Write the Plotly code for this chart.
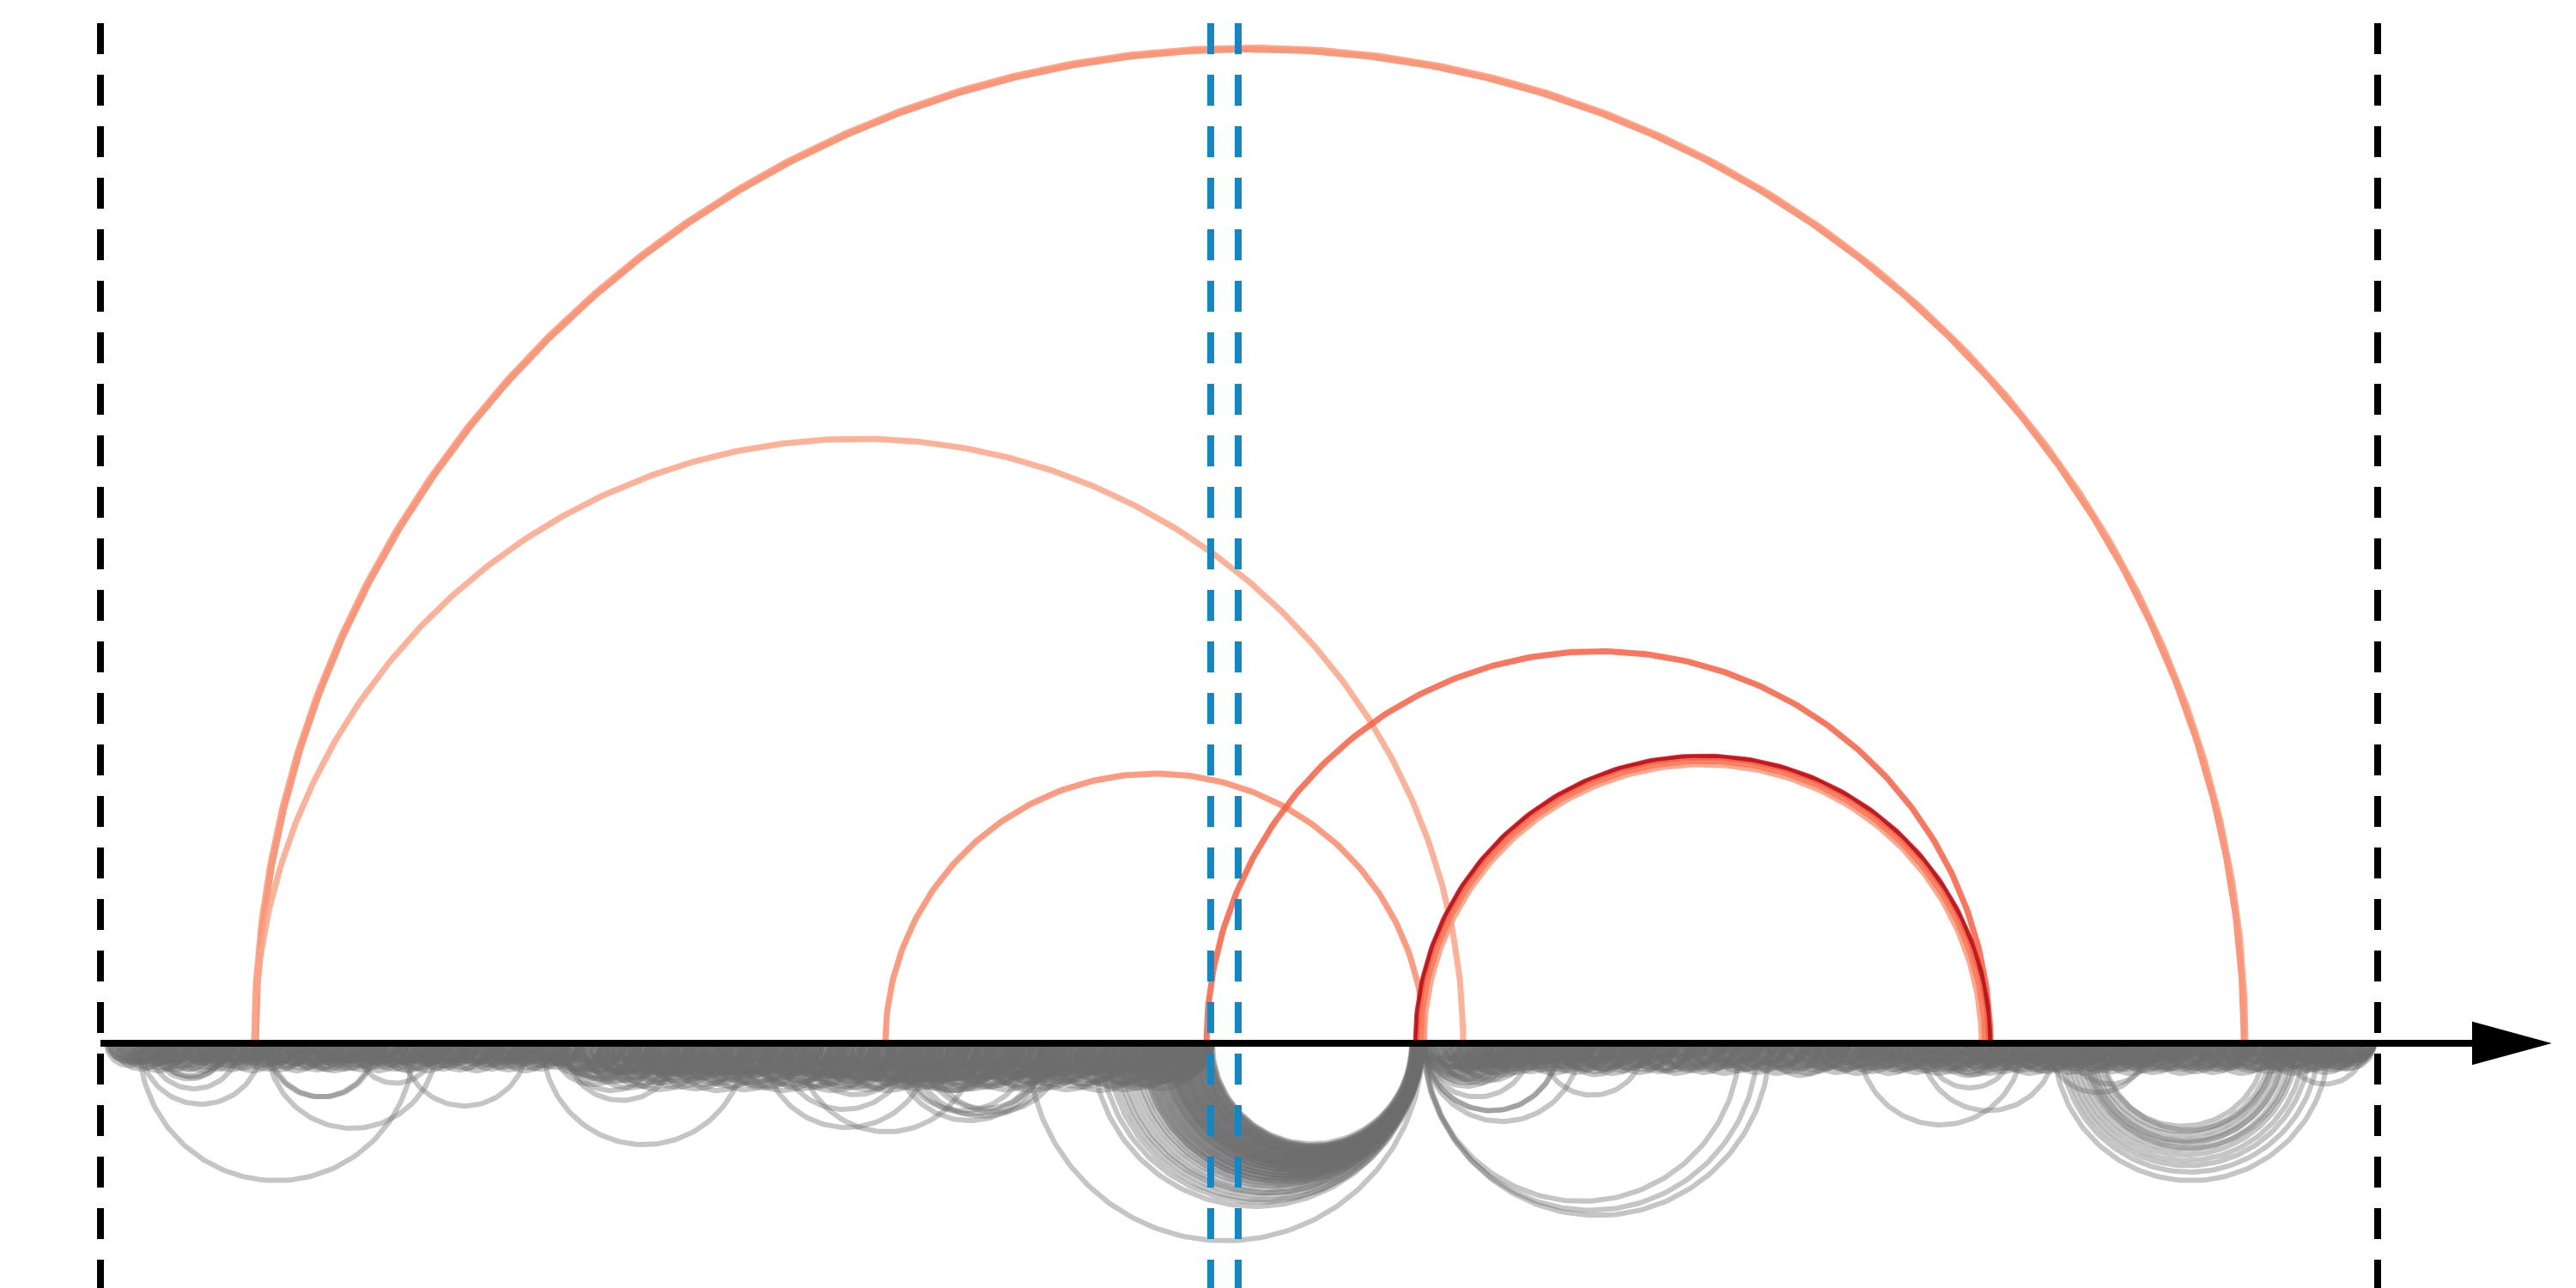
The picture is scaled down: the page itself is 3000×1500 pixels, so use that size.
import numpy as np
import plotly.graph_objects as go
from plotly.colors import sample_colorscale

# genomic window (kb) and viewpoint
window_start, window_end = 117, 2769
viewpoint = [1410, 1442]

# significant interactions drawn above the axis: start, end, score
red_start = [298, 296, 296, 1031, 1405, 1658, 1649, 1650, 1654]
red_end = [2613, 2615, 1704, 1659, 2318, 2308, 2317, 2316, 2312]
red_score = [0.42, 0.36, 0.32, 0.40, 0.53, 0.35, 0.75, 0.80, 0.46]

# background contacts drawn below the axis (start, end)
long_arcs = [(162, 482), (311, 509), (311, 436), (313, 438), (468, 614), (163, 305), (173, 279),
             (179, 262), (182, 258), (185, 264), (188, 250), (350, 411), (414, 507), (443, 507),
             (632, 868), (657, 790), (655, 735), (742, 812), (780, 861), (840, 940),
             (888, 1084), (930, 1136), (906, 1060), (937, 1057), (1043, 1200), (1050, 1215),
             (1060, 1230), (1070, 1222), (1080, 1240), (1039, 1219), (1050, 1160), (1060, 1170),
             (1197, 1657), (1262, 1357), (1268, 1365), (1275, 1340),
             (1658, 2026), (1658, 2047), (1660, 2061), (1658, 1815), (1659, 1816), (1658, 1840),
             (1658, 1783), (1658, 1758), (1658, 1736), (1794, 1915), (1822, 1895), (1910, 1975),
             (2060, 2135), (1840, 1900), (2165, 2355), (2237, 2394), (2242, 2346), (2255, 2330),
             (2262, 2335), (2385, 2500), (2345, 2410), (2470, 2515), (2410, 2505),
             (2445, 2638), (2440, 2645), (2436, 2650), (2430, 2655), (2425, 2660), (2420, 2668),
             (2433, 2662), (2415, 2675), (2410, 2683), (2405, 2690), (2400, 2700), (2392, 2712),
             (2448, 2650), (2428, 2672), (2660, 2755)]

# contacts of the viewpoint region (start, end)
viewpoint_arcs = [(1412, 1650), (1410, 1651), (1408, 1652), (1405, 1650), (1403, 1653), (1400, 1651),
                  (1398, 1654), (1395, 1652), (1392, 1655), (1390, 1650), (1387, 1653), (1384, 1656),
                  (1381, 1651), (1378, 1654), (1375, 1657), (1372, 1652), (1369, 1655), (1366, 1650),
                  (1363, 1653), (1360, 1656), (1356, 1651), (1352, 1654), (1348, 1657), (1344, 1652),
                  (1340, 1655), (1336, 1650), (1332, 1653), (1322, 1652), (1312, 1652), (1296, 1652),
                  (1290, 1655), (1282, 1652), (1272, 1652), (1409, 1647), (1401, 1648), (1393, 1649),
                  (1385, 1647), (1377, 1648), (1370, 1649), (1362, 1647),
                  (1411, 1645), (1407, 1649), (1404, 1656), (1402, 1644), (1399, 1657), (1397, 1646),
                  (1394, 1650), (1391, 1644), (1389, 1657), (1386, 1648), (1383, 1652), (1380, 1656),
                  (1379, 1645), (1376, 1650), (1374, 1655), (1371, 1646), (1368, 1651), (1365, 1656),
                  (1364, 1645), (1361, 1650), (1358, 1654), (1355, 1657), (1353, 1647), (1350, 1651),
                  (1346, 1655), (1342, 1649), (1338, 1653), (1334, 1657), (1330, 1650), (1327, 1654),
                  (1318, 1652), (1306, 1654), (1301, 1650)]

# short-range contacts (start, end)
short_arcs = [
    (125, 160), (128, 172), (133, 150), (137, 182), (141, 168), (147, 190), (151, 176), (156, 198),
    (161, 187), (165, 209), (170, 194), (176, 218), (181, 203), (186, 226), (190, 212), (196, 236),
    (201, 224), (206, 244), (212, 232), (217, 256), (222, 246), (228, 266), (233, 255), (238, 276),
    (244, 264), (249, 288), (254, 278), (259, 296), (265, 286), (270, 306), (276, 298), (281, 318),
    (286, 310), (292, 328), (297, 320),
    (302, 345), (306, 330), (311, 352), (316, 338), (320, 366), (326, 350), (331, 372), (336, 360),
    (340, 384), (346, 368), (351, 394), (356, 378), (361, 402), (366, 390), (371, 412), (376, 398),
    (381, 420), (386, 410), (391, 432), (396, 420), (402, 444), (407, 430), (412, 452), (417, 440),
    (422, 466), (428, 450), (433, 474), (438, 462), (443, 486), (448, 470), (454, 496), (459, 482),
    (464, 504), (469, 492), (474, 516), (480, 504), (485, 526), (490, 512), (495, 538), (500, 522),
    (506, 548), (511, 534), (516, 556), (521, 546), (526, 568), (532, 556), (537, 578), (542, 566),
    (547, 590), (552, 574), (558, 600), (563, 586), (568, 610), (573, 598), (578, 620), (584, 606),
    (589, 632), (594, 616), (599, 640), (604, 628), (610, 652), (615, 638), (620, 660), (625, 650),
    (630, 672), (636, 660),
    (641, 700), (645, 675), (649, 712), (653, 690), (657, 722), (662, 700), (666, 715), (670, 735),
    (675, 710), (679, 745), (683, 720), (688, 756), (692, 730), (696, 764), (701, 740), (705, 772),
    (709, 748), (714, 782), (718, 760), (722, 790), (727, 770), (731, 800), (735, 778), (740, 808),
    (744, 786), (748, 818), (753, 796), (757, 826), (761, 804), (766, 834), (770, 812), (774, 842),
    (779, 822), (783, 852), (787, 830), (792, 860), (796, 838), (800, 870), (805, 848), (809, 878),
    (813, 856), (818, 886), (822, 864), (826, 896), (831, 874), (835, 904), (839, 882), (844, 912),
    (848, 890), (852, 920), (857, 898), (861, 930), (865, 906), (870, 938),
    (874, 920), (878, 948), (883, 930), (887, 958), (891, 940), (896, 966), (900, 950), (904, 976),
    (909, 958), (913, 986), (917, 968), (922, 996), (926, 976), (930, 1006), (935, 986), (939, 1016),
    (943, 996), (948, 1026), (952, 1004), (956, 1036), (961, 1014), (965, 1046), (969, 1024),
    (974, 1056), (978, 1034), (982, 1066), (987, 1042), (991, 1076), (995, 1052), (1000, 1086),
    (1004, 1062), (1008, 1096), (1013, 1070), (1017, 1104), (1021, 1080), (1026, 1112), (1030, 1090),
    (1034, 1120), (1039, 1098), (1043, 1128), (1047, 1108), (1052, 1136), (1056, 1116), (1060, 1144),
    (1065, 1124), (1069, 1152), (1073, 1132), (1078, 1160), (1082, 1140), (1086, 1168), (1091, 1148),
    (1095, 1176), (1099, 1156), (1104, 1184), (1108, 1164), (1112, 1192), (1117, 1172), (1121, 1200),
    (1125, 1180), (1130, 1208), (1134, 1188), (1138, 1216), (1143, 1196), (1147, 1224), (1151, 1204),
    (1156, 1232), (1160, 1212), (1164, 1240), (1169, 1220), (1173, 1248), (1177, 1228), (1182, 1256),
    (1186, 1236), (1190, 1262), (1195, 1244), (1199, 1270),
    (1203, 1252), (1207, 1276), (1212, 1260), (1216, 1284), (1220, 1268), (1225, 1292), (1229, 1276),
    (1233, 1300), (1238, 1284), (1242, 1308), (1246, 1292), (1251, 1316), (1255, 1300), (1259, 1324),
    (1264, 1308), (1268, 1332), (1272, 1316), (1277, 1340), (1281, 1324), (1285, 1348), (1290, 1332),
    (1294, 1356), (1298, 1340), (1303, 1364), (1307, 1348), (1311, 1372), (1316, 1356), (1320, 1380),
    (1324, 1364), (1329, 1388), (1333, 1372), (1337, 1396), (1342, 1380), (1346, 1404), (1350, 1388),
    (1355, 1410), (1359, 1396), (1363, 1412), (1368, 1404), (1372, 1410), (1378, 1408), (1384, 1411),
    (1390, 1412),
    (1655, 1690), (1656, 1700), (1657, 1712), (1658, 1722), (1658, 1730), (1659, 1745), (1660, 1752),
    (1662, 1700), (1666, 1720), (1670, 1705), (1674, 1732), (1679, 1716), (1683, 1740), (1688, 1724),
    (1692, 1748), (1697, 1732), (1701, 1756), (1706, 1740), (1710, 1762), (1715, 1748), (1719, 1770),
    (1724, 1756), (1728, 1778), (1733, 1764), (1737, 1786), (1742, 1772),
    (1746, 1794), (1751, 1780), (1755, 1802), (1760, 1788), (1764, 1810), (1769, 1796), (1773, 1818),
    (1778, 1804), (1782, 1826), (1787, 1812), (1791, 1834), (1796, 1820), (1800, 1842), (1805, 1828),
    (1809, 1850), (1814, 1836), (1818, 1858), (1823, 1844), (1827, 1866), (1832, 1852), (1836, 1874),
    (1841, 1860), (1845, 1882), (1850, 1868), (1854, 1890), (1859, 1876), (1863, 1898), (1868, 1884),
    (1872, 1906), (1877, 1892), (1881, 1914), (1886, 1902), (1890, 1922), (1895, 1910), (1899, 1930),
    (1904, 1918), (1908, 1940), (1913, 1928), (1917, 1948), (1922, 1936), (1926, 1956), (1931, 1944),
    (1935, 1964), (1940, 1954), (1944, 1972), (1949, 1962), (1953, 1980), (1958, 1970), (1962, 1988),
    (1967, 1980), (1971, 1996), (1976, 1990), (1980, 2004), (1985, 2000), (1989, 2012), (1994, 2008),
    (1998, 2020), (2003, 2018), (2007, 2028), (2012, 2026), (2016, 2036), (2021, 2034), (2025, 2046),
    (2030, 2044), (2034, 2054), (2039, 2052), (2043, 2064), (2048, 2062), (2052, 2074), (2057, 2072),
    (2061, 2084), (2066, 2080), (2070, 2094), (2075, 2090), (2079, 2104), (2084, 2100), (2088, 2114),
    (2093, 2108), (2097, 2124), (2102, 2118), (2106, 2134), (2111, 2126), (2115, 2144), (2120, 2136),
    (2124, 2154), (2129, 2146), (2133, 2164), (2138, 2156), (2142, 2174), (2147, 2166), (2151, 2184),
    (2156, 2176), (2160, 2194), (2165, 2186), (2169, 2204), (2174, 2196), (2178, 2214), (2183, 2206),
    (2187, 2224), (2192, 2216), (2196, 2232),
    (2201, 2240), (2205, 2226), (2210, 2252), (2214, 2236), (2219, 2262), (2223, 2246), (2228, 2272),
    (2232, 2256), (2237, 2280), (2241, 2264), (2246, 2290), (2250, 2274), (2255, 2298), (2259, 2284),
    (2264, 2308), (2268, 2292), (2273, 2316), (2277, 2302), (2282, 2326), (2286, 2310), (2291, 2334),
    (2295, 2320), (2300, 2344), (2304, 2328), (2309, 2352), (2313, 2338), (2318, 2362), (2322, 2346),
    (2327, 2370), (2331, 2356), (2336, 2380), (2340, 2364), (2345, 2388), (2349, 2374), (2354, 2398),
    (2358, 2382), (2363, 2406), (2367, 2392), (2372, 2416), (2376, 2400), (2381, 2424), (2385, 2410),
    (2390, 2434), (2394, 2418), (2399, 2442), (2403, 2428), (2408, 2452), (2412, 2436), (2417, 2460),
    (2421, 2446), (2426, 2470), (2430, 2454), (2435, 2478), (2439, 2464), (2444, 2488), (2448, 2472),
    (2453, 2496), (2457, 2482), (2462, 2506), (2466, 2490), (2471, 2514), (2475, 2500), (2480, 2524),
    (2484, 2508), (2489, 2530), (2493, 2516), (2498, 2536), (2502, 2524), (2507, 2542), (2511, 2532),
    (2516, 2550), (2520, 2540), (2525, 2558), (2529, 2548), (2534, 2566), (2538, 2556), (2543, 2574),
    (2547, 2564), (2552, 2582), (2556, 2572), (2561, 2590), (2565, 2580), (2570, 2598), (2574, 2590),
    (2579, 2606), (2583, 2600), (2588, 2616), (2592, 2610), (2597, 2626), (2601, 2620), (2606, 2636),
    (2610, 2630), (2615, 2646), (2619, 2640), (2624, 2656), (2628, 2650), (2633, 2666), (2637, 2660),
    (2642, 2676), (2646, 2670), (2651, 2686), (2655, 2680), (2660, 2696), (2664, 2690), (2669, 2706),
    (2673, 2700), (2678, 2716), (2682, 2710), (2687, 2726), (2691, 2720), (2696, 2736), (2700, 2730),
    (2705, 2746), (2709, 2740), (2714, 2756), (2718, 2750), (2723, 2762), (2727, 2758), (2732, 2764),
    (2737, 2762), (2742, 2765), (2748, 2764)]

# more short-range contacts, given as (start, distance)
near_contacts = [
    (127, 41), (131, 27), (136, 48), (140, 33), (145, 45), (149, 24), (154, 50), (158, 30), (163, 38),
    (167, 44), (172, 26), (176, 47), (181, 35), (185, 42), (190, 29), (194, 51), (199, 32), (203, 40),
    (208, 23), (212, 46), (217, 36), (221, 49), (226, 28), (230, 43), (235, 31), (239, 52), (244, 25),
    (248, 39), (253, 45), (257, 30), (262, 48), (266, 34), (271, 41), (275, 27), (280, 50), (284, 33),
    (289, 44), (293, 26), (298, 47), (302, 37), (307, 52), (311, 29), (316, 42), (320, 35), (325, 49),
    (329, 24), (334, 45), (338, 31), (343, 51), (347, 38), (352, 27), (356, 46), (361, 33), (365, 50),
    (370, 40), (374, 25), (379, 48), (383, 36), (388, 43), (392, 30), (397, 52), (401, 28), (406, 44),
    (410, 37), (415, 49), (419, 26), (424, 41), (428, 34), (433, 51), (437, 29), (442, 46), (446, 39),
    (451, 24), (455, 48), (460, 35), (464, 42), (469, 31), (473, 50), (478, 27), (482, 45), (487, 38),
    (491, 52), (496, 30), (500, 43), (505, 36), (509, 47), (514, 25), (518, 41), (523, 33), (527, 49),
    (532, 28), (536, 44), (541, 37), (545, 51), (550, 31), (554, 46), (559, 26), (563, 40), (568, 48),
    (572, 34), (577, 43), (581, 29), (586, 50), (590, 36), (595, 45), (599, 27), (604, 52), (608, 39),
    (613, 32), (617, 47), (622, 41), (626, 30), (631, 49), (635, 36),
    (640, 62), (644, 38), (649, 75), (653, 47), (658, 84), (662, 55), (667, 40), (671, 70), (676, 52),
    (680, 88), (685, 44), (689, 66), (694, 35), (698, 79), (703, 58), (707, 92), (712, 42), (716, 68),
    (721, 50), (725, 85), (730, 37), (734, 72), (739, 60), (743, 46), (748, 90), (752, 54), (757, 76),
    (761, 41), (766, 64), (770, 83), (775, 48), (779, 70), (784, 36), (788, 94), (793, 57), (797, 74),
    (802, 45), (806, 87), (811, 62), (815, 39), (820, 78), (824, 52), (829, 68), (833, 92), (838, 43),
    (842, 73), (847, 56), (851, 86), (856, 40), (860, 66), (865, 80), (869, 48), (874, 95), (878, 58),
    (883, 71), (887, 44), (892, 88), (896, 62), (901, 50), (905, 98), (910, 67), (914, 42), (919, 84),
    (923, 55), (928, 76), (932, 100), (937, 46), (941, 72), (946, 60), (950, 90), (955, 48), (959, 80),
    (964, 57), (968, 102), (973, 66), (977, 44), (982, 86), (986, 70), (991, 52), (995, 96), (1000, 62),
    (1004, 78), (1009, 46), (1013, 92), (1018, 58), (1022, 74), (1027, 100), (1031, 50), (1036, 84),
    (1040, 66), (1045, 44), (1049, 90), (1054, 72), (1058, 56), (1063, 98), (1067, 62), (1072, 80),
    (1076, 48), (1081, 94), (1085, 68), (1090, 54), (1094, 86), (1099, 60), (1103, 100), (1108, 46),
    (1112, 76), (1117, 64), (1121, 92), (1126, 52), (1130, 82), (1135, 58), (1139, 96), (1144, 70),
    (1148, 48), (1153, 88), (1157, 62), (1162, 78), (1166, 54), (1171, 94), (1175, 66), (1180, 84),
    (1184, 50), (1189, 72), (1193, 90), (1198, 60),
    (1202, 48), (1206, 80), (1211, 62), (1215, 94), (1220, 54), (1224, 76), (1229, 88), (1233, 58),
    (1238, 70), (1242, 96), (1247, 50), (1251, 82), (1256, 64), (1260, 92), (1265, 56), (1269, 78),
    (1274, 86), (1278, 60), (1283, 74), (1287, 98), (1292, 52), (1296, 84), (1301, 66), (1305, 90),
    (1310, 58), (1314, 80), (1319, 70), (1323, 88), (1328, 62), (1332, 78), (1337, 54), (1341, 70),
    (1346, 60), (1350, 62), (1355, 50), (1359, 52), (1364, 44), (1368, 42), (1373, 36), (1377, 34),
    (1382, 28), (1386, 24), (1391, 20), (1395, 16),
    (1661, 46), (1664, 72), (1668, 58), (1672, 84), (1677, 40), (1681, 66), (1686, 52), (1690, 78),
    (1695, 44), (1699, 60), (1704, 36), (1708, 70), (1713, 48), (1717, 56), (1722, 32), (1726, 62),
    (1731, 44), (1735, 54), (1740, 28), (1744, 50), (1749, 38), (1753, 58), (1758, 30), (1762, 46),
    (1767, 54), (1771, 34), (1776, 60), (1780, 42), (1785, 26), (1789, 52), (1794, 40), (1798, 56),
    (1803, 32), (1807, 48), (1812, 58), (1816, 36), (1821, 50), (1825, 28), (1830, 54), (1834, 42),
    (1839, 60), (1843, 34), (1848, 46), (1852, 56), (1857, 30), (1861, 50), (1866, 40), (1870, 58),
    (1875, 26), (1879, 48), (1884, 36), (1888, 54), (1893, 44), (1897, 30), (1902, 52), (1906, 40),
    (1911, 58), (1915, 34), (1920, 46), (1924, 28), (1929, 54), (1933, 42), (1938, 60), (1942, 32),
    (1947, 50), (1951, 38), (1956, 56), (1960, 26), (1965, 46), (1969, 52), (1974, 34), (1978, 58),
    (1983, 40), (1987, 48), (1992, 30), (1996, 54), (2001, 44), (2005, 60), (2010, 36), (2014, 50),
    (2019, 28), (2023, 56), (2028, 42), (2032, 48), (2037, 34), (2041, 58), (2046, 40), (2050, 52),
    (2055, 30), (2059, 46), (2064, 56), (2068, 36), (2073, 60), (2077, 44), (2082, 28), (2086, 52),
    (2091, 40), (2095, 58), (2100, 32), (2104, 48), (2109, 54), (2113, 38), (2118, 60), (2122, 30),
    (2127, 46), (2131, 56), (2136, 42), (2140, 34), (2145, 52), (2149, 58), (2154, 38), (2158, 48),
    (2163, 28), (2167, 56), (2172, 44), (2176, 60), (2181, 36), (2185, 50), (2190, 42), (2194, 58),
    (2199, 32),
    (2203, 48), (2207, 30), (2212, 56), (2216, 40), (2221, 60), (2225, 34), (2230, 50), (2234, 44),
    (2239, 28), (2243, 58), (2248, 38), (2252, 52), (2257, 32), (2261, 60), (2266, 42), (2270, 48),
    (2275, 26), (2279, 56), (2284, 36), (2288, 54), (2293, 44), (2297, 30), (2302, 58), (2306, 40),
    (2311, 50), (2315, 34), (2320, 60), (2324, 46), (2329, 28), (2333, 54), (2338, 38), (2342, 58),
    (2347, 42), (2351, 32), (2356, 52), (2360, 60), (2365, 36), (2369, 48), (2374, 56), (2378, 30),
    (2383, 44), (2387, 58), (2392, 40), (2396, 52), (2401, 34), (2405, 60), (2410, 46), (2414, 28),
    (2419, 54), (2423, 40), (2428, 58), (2432, 34), (2437, 50), (2441, 44), (2446, 60), (2450, 30),
    (2455, 48), (2459, 56), (2464, 38), (2468, 52), (2473, 28), (2477, 58), (2482, 42), (2486, 50),
    (2491, 34), (2495, 56), (2500, 44), (2504, 30), (2509, 60), (2513, 40), (2518, 52), (2522, 36),
    (2527, 58), (2531, 46), (2536, 28), (2540, 54), (2545, 42), (2549, 60), (2554, 32), (2558, 48),
    (2563, 56), (2567, 38), (2572, 52), (2576, 30), (2581, 58), (2585, 44), (2590, 50), (2594, 34),
    (2599, 60), (2603, 40), (2608, 48), (2612, 28), (2617, 56), (2621, 42), (2626, 52), (2630, 36),
    (2635, 58), (2639, 46), (2644, 30), (2648, 54), (2653, 40), (2657, 60), (2662, 34), (2666, 50),
    (2671, 44), (2675, 58), (2680, 28), (2684, 52), (2689, 40), (2693, 56), (2698, 34), (2702, 48),
    (2707, 58), (2711, 38), (2716, 46), (2720, 30), (2725, 40), (2729, 34), (2734, 30), (2738, 26),
    (2743, 22), (2747, 18)]

# mid-range contacts, given as (start, distance)
mid_contacts = [
    (124, 52), (129, 38), (134, 60), (139, 44), (143, 56), (148, 40), (153, 64), (158, 48), (162, 58),
    (167, 36), (172, 62), (177, 46), (181, 54), (186, 40), (191, 60), (196, 50), (200, 38), (205, 64),
    (210, 44), (215, 56), (219, 42), (224, 60), (229, 48), (234, 36), (238, 62), (243, 52), (248, 40),
    (253, 58), (257, 46), (262, 64), (267, 38), (272, 54), (276, 44), (281, 60), (286, 50), (291, 36),
    (295, 62), (300, 46), (305, 56), (310, 40), (314, 64), (319, 48), (324, 58), (329, 38), (333, 54),
    (338, 62), (343, 42), (348, 56), (352, 46), (357, 64), (362, 36), (367, 52), (371, 60), (376, 44),
    (381, 58), (386, 40), (390, 62), (395, 50), (400, 38), (405, 56), (409, 64), (414, 46), (419, 54),
    (424, 40), (428, 60), (433, 48), (438, 36), (443, 62), (447, 52), (452, 44), (457, 58), (462, 40),
    (466, 64), (471, 50), (476, 38), (481, 56), (485, 60), (490, 44), (495, 54), (500, 40), (504, 62),
    (509, 48), (514, 58), (519, 36), (523, 64), (528, 46), (533, 52), (538, 42), (542, 60), (547, 50),
    (552, 38), (557, 56), (561, 62), (566, 44), (571, 54), (576, 40), (580, 64), (585, 48), (590, 58),
    (595, 36), (599, 60), (604, 46), (609, 52), (614, 42), (618, 56), (623, 40), (628, 48), (632, 44),
    (638, 70), (643, 96), (648, 58), (653, 84), (657, 110), (662, 64), (667, 90), (672, 52), (676, 78),
    (681, 104), (686, 60), (691, 86), (695, 70), (700, 100), (705, 56), (710, 82), (714, 108), (719, 66),
    (724, 92), (729, 54), (733, 76), (738, 102), (743, 62), (748, 88), (752, 72), (757, 106), (762, 58),
    (767, 80), (771, 96), (776, 64), (781, 110), (786, 54), (790, 86), (795, 74), (800, 100), (805, 60),
    (809, 84), (814, 108), (819, 68), (824, 94), (828, 56), (833, 78), (838, 104), (843, 62), (847, 90),
    (852, 72), (857, 110), (862, 58), (866, 82), (871, 98), (876, 66), (881, 106), (885, 54), (890, 88),
    (895, 76), (900, 102), (904, 62), (909, 84), (914, 110), (919, 70), (923, 94), (928, 56), (933, 80),
    (938, 104), (942, 64), (947, 90), (952, 74), (957, 108), (961, 58), (966, 86), (971, 98), (976, 68),
    (980, 110), (985, 54), (990, 82), (995, 76), (999, 102), (1004, 62), (1009, 88), (1014, 106),
    (1018, 70), (1023, 94), (1028, 58), (1033, 80), (1037, 104), (1042, 66), (1047, 90), (1052, 74),
    (1056, 110), (1061, 56), (1066, 84), (1071, 98), (1075, 64), (1080, 106), (1085, 72), (1090, 88),
    (1094, 58), (1099, 102), (1104, 78), (1109, 94), (1113, 62), (1118, 108), (1123, 70), (1128, 86),
    (1132, 56), (1137, 100), (1142, 76), (1147, 110), (1151, 64), (1156, 90), (1161, 72), (1166, 104),
    (1170, 58), (1175, 84), (1180, 96), (1185, 66), (1189, 108), (1194, 74), (1199, 88), (1204, 60),
    (1208, 102), (1213, 78), (1218, 94), (1223, 64), (1227, 110), (1232, 70), (1237, 86), (1242, 56),
    (1246, 100), (1251, 76), (1256, 108), (1261, 62), (1265, 90), (1270, 72), (1275, 104), (1280, 58),
    (1284, 84), (1289, 96), (1294, 68), (1299, 106), (1303, 74), (1308, 88), (1313, 60), (1318, 92),
    (1322, 78), (1327, 84), (1332, 64), (1337, 74), (1341, 70), (1346, 60), (1351, 56), (1356, 52),
    (1360, 48), (1365, 44), (1370, 40), (1375, 34), (1379, 30), (1384, 26),
    (1663, 54), (1667, 80), (1671, 64), (1676, 92), (1680, 48), (1685, 70), (1690, 58), (1694, 86),
    (1699, 50), (1704, 66), (1708, 42), (1713, 74), (1718, 56), (1722, 62), (1727, 40), (1732, 68),
    (1736, 52), (1741, 60), (1746, 44), (1750, 66), (1755, 56), (1760, 38), (1764, 62), (1769, 48),
    (1774, 70), (1778, 44), (1783, 58), (1788, 40), (1792, 64), (1797, 52), (1802, 68), (1806, 42),
    (1811, 56), (1816, 62), (1820, 38), (1825, 66), (1830, 50), (1834, 60), (1839, 44), (1844, 70),
    (1848, 54), (1853, 40), (1858, 64), (1862, 48), (1867, 58), (1872, 42), (1876, 68), (1881, 52),
    (1886, 62), (1890, 38), (1895, 56), (1900, 66), (1904, 46), (1909, 60), (1914, 40), (1918, 70),
    (1923, 50), (1928, 58), (1932, 44), (1937, 64), (1942, 38), (1946, 56), (1951, 68), (1956, 48),
    (1960, 62), (1965, 42), (1970, 58), (1974, 70), (1979, 46), (1984, 54), (1988, 40), (1993, 64),
    (1998, 50), (2002, 60), (2007, 44), (2012, 68), (2016, 38), (2021, 56), (2026, 62), (2030, 48),
    (2035, 70), (2040, 42), (2044, 58), (2049, 52), (2054, 66), (2058, 40), (2063, 60), (2068, 46),
    (2072, 70), (2077, 54), (2082, 38), (2086, 64), (2091, 50), (2096, 58), (2100, 44), (2105, 68),
    (2110, 40), (2114, 56), (2119, 62), (2124, 48), (2128, 70), (2133, 42), (2138, 60), (2142, 52),
    (2147, 66), (2152, 38), (2156, 58), (2161, 46), (2166, 70), (2170, 54), (2175, 40), (2180, 64),
    (2184, 50), (2189, 60), (2194, 44), (2198, 68),
    (2203, 56), (2208, 40), (2212, 64), (2217, 48), (2222, 70), (2226, 52), (2231, 42), (2236, 60),
    (2240, 66), (2245, 46), (2250, 58), (2254, 38), (2259, 68), (2264, 50), (2268, 62), (2273, 44),
    (2278, 56), (2282, 70), (2287, 40), (2292, 60), (2296, 52), (2301, 66), (2306, 44), (2310, 58),
    (2315, 38), (2320, 64), (2324, 48), (2329, 70), (2334, 54), (2338, 42), (2343, 60), (2348, 50),
    (2352, 66), (2357, 38), (2362, 56), (2366, 62), (2371, 46), (2376, 68), (2380, 40), (2385, 58),
    (2390, 52), (2394, 70), (2399, 44), (2404, 60), (2408, 48), (2413, 64), (2418, 38), (2422, 56),
    (2427, 66), (2432, 42), (2436, 60), (2441, 50), (2446, 70), (2450, 46), (2455, 58), (2460, 40),
    (2464, 64), (2469, 52), (2474, 68), (2478, 44), (2483, 56), (2488, 62), (2492, 38), (2497, 60),
    (2502, 48), (2506, 70), (2511, 42), (2516, 58), (2520, 52), (2525, 66), (2530, 40), (2534, 60),
    (2539, 46), (2544, 68), (2548, 54), (2553, 38), (2558, 62), (2562, 50), (2567, 58), (2572, 44),
    (2576, 70), (2581, 40), (2586, 56), (2590, 64), (2595, 48), (2600, 60), (2604, 42), (2609, 66),
    (2614, 52), (2618, 38), (2623, 58), (2628, 62), (2632, 46), (2637, 70), (2642, 44), (2646, 56),
    (2651, 50), (2656, 64), (2660, 40), (2665, 60), (2670, 48), (2674, 68), (2679, 52), (2684, 42),
    (2688, 62), (2693, 56), (2698, 46), (2702, 60), (2707, 50), (2712, 44), (2716, 48), (2721, 40),
    (2726, 38), (2730, 34), (2735, 30), (2740, 24)]


def arc(start, end, up=True):
    r = (end - start) / 2
    n = int(24 + r / 2)
    t = np.linspace(0, np.pi, n)
    x = (start + end) / 2 - r * np.cos(t)
    y = r * np.sin(t)
    return x, (y if up else -y)


fig = go.Figure()

gray_pairs = (short_arcs + [(s, s + d) for s, d in near_contacts]
              + [(s, s + d) for s, d in mid_contacts] + long_arcs + viewpoint_arcs)
gray = "rgba(110,110,110,0.4)"
for s, e in gray_pairs:
    x, y = arc(s, e, up=False)
    fig.add_trace(go.Scatter(x=x, y=y, mode="lines", line=dict(color=gray, width=6),
                             hoverinfo="skip", showlegend=False))

red_cols = sample_colorscale("Reds", red_score, colortype="tuple")
for s, e, c in zip(red_start, red_end, red_cols):
    x, y = arc(s, e, up=True)
    rgba = "rgba(%d,%d,%d,0.85)" % tuple(round(v * 255) if v <= 1 else round(v) for v in c)
    fig.add_trace(go.Scatter(x=x, y=y, mode="lines", line=dict(color=rgba, width=7),
                             hoverinfo="skip", showlegend=False))

# x axis with arrow
arrow_tip = 2968
fig.add_trace(go.Scatter(x=[window_start, arrow_tip - 70], y=[0, 0], mode="lines",
                         line=dict(color="black", width=8), hoverinfo="skip", showlegend=False))
fig.add_shape(type="path", path=f"M {arrow_tip - 88},24 L {arrow_tip},0 L {arrow_tip - 88},-24 Z",
              fillcolor="black", line=dict(color="black", width=2))

# window and viewpoint boundaries
for xv, col in [(viewpoint[0], "#1187c4"), (viewpoint[1], "#1187c4"),
                (window_start, "black"), (window_end, "black")]:
    fig.add_trace(go.Scatter(x=[xv, xv], y=[1248, -300], mode="lines",
                             line=dict(color=col, width=8, dash="36px,24px"),
                             hoverinfo="skip", showlegend=False))

# page body adds an 8 px margin, so the ranges are shifted by 8
fig.update_layout(width=3000, height=1500, margin=dict(l=0, r=0, t=0, b=0),
                  plot_bgcolor="white", paper_bgcolor="white", showlegend=False,
                  xaxis=dict(range=[8, 3008], visible=False),
                  yaxis=dict(range=[-293, 1207], visible=False))
fig.write_html("out.html")
